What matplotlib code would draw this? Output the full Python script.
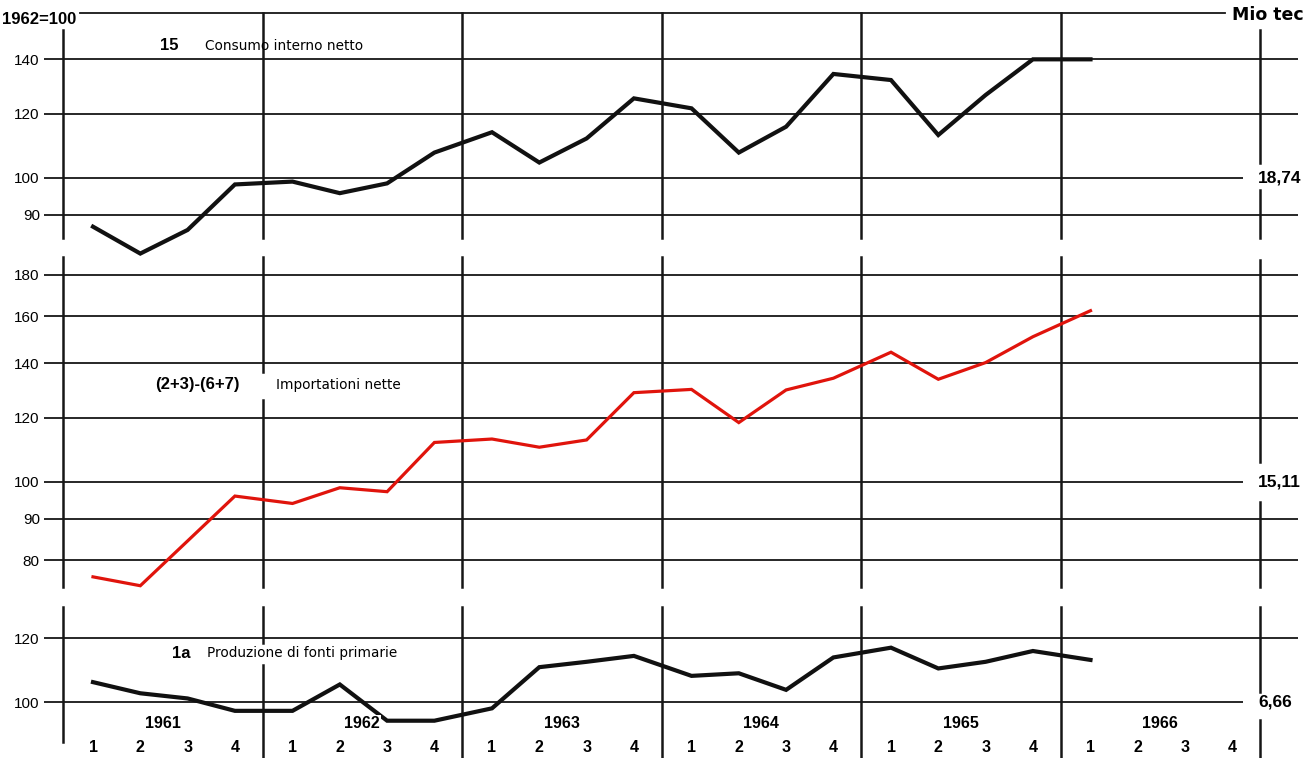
import matplotlib
matplotlib.use("Agg")
from matplotlib import pyplot as plt
from matplotlib.ticker import NullLocator

plt.rcParams['font.family'] = ['Liberation Sans', 'DejaVu Sans']

# quarterly indices, 1962 = 100, from 1961 Q1 to 1966 Q1
years = [1961, 1962, 1963, 1964, 1965, 1966]
quarter_labels = ["1", "2", "3", "4"]

consumo = [87.0, 80.6, 86.2, 98.1, 98.9, 95.7, 98.4, 107.4,
           113.8, 104.4, 111.8, 125.3, 121.8, 107.4, 115.6, 134.3,
           132.0, 112.9, 126.5, 140.0, 140.0]
importazioni = [76.3, 74.4, 84.5, 96.0, 94.0, 98.3, 97.2, 111.8,
                112.9, 110.3, 112.6, 128.8, 130.0, 118.3, 129.8, 134.2,
                144.5, 133.8, 140.3, 151.0, 162.6]
produzione = [105.9, 102.6, 101.1, 97.6, 97.6, 105.2, 94.9, 94.9,
              98.3, 110.5, 112.2, 114.1, 107.8, 108.6, 103.6, 113.6,
              116.8, 110.1, 112.2, 115.7, 112.8]

base_mio_tec = ["18,74", "15,11", "6,66"]
ticks_consumo = [90, 100, 120, 140]
ticks_import = [80, 90, 100, 120, 140, 160, 180]
ticks_prod = [100, 120]

W, H = 1313, 758
K = 810.0          # pixels per decade on the log axes
YEAR_PX = 199.5
LINE = "#161616"


def xd(px):
    return years[0] + (px - 63) / YEAR_PX


def xq(i):
    return years[0] + i // 4 + (30 + 47.3 * (i % 4)) / YEAR_PX


fig = plt.figure(figsize=(W / 100, H / 100), dpi=100)
fig.patch.set_facecolor("white")


def make_panel(top, bot, p100, values, color, lw, ticks, vspans, rgap, ygap=None):
    ax = fig.add_axes([44 / W, 1 - bot / H, (W - 44) / W, (bot - top) / H])
    ax.set_yscale("log")
    ax.set_xlim(xd(44), xd(W))
    ax.set_ylim(10 ** (2 + (p100 - bot) / K), 10 ** (2 + (p100 - top) / K))
    ax.patch.set_visible(False)
    for s in ax.spines.values():
        s.set_visible(False)
    ax.set_xticks([])
    ax.yaxis.set_minor_locator(NullLocator())
    ax.set_yticks(ticks, labels=[str(t) for t in ticks])
    ax.tick_params(axis="y", length=0, pad=3, labelsize=11)

    def fr(p):
        return (bot - p) / (bot - top)

    def vline(x, p0, p1):
        ax.plot([x] * 2, [fr(p1), fr(p0)], transform=ax.get_xaxis_transform(),
                color=LINE, lw=1.8, clip_on=False, zorder=1)

    # horizontal rules
    for t in ticks:
        x1 = 1243 if t == 100 else 1298
        ax.hlines(t, xd(44), xd(x1), color=LINE, lw=1.3, zorder=1)

    # vertical rules: left edge, year boundaries, right edge
    vline(years[0], *vspans["left"])
    y0, y1 = vspans["year"]
    for y in years[1:]:
        if ygap is not None and y == ygap[0]:
            vline(y, y0, ygap[1])
            vline(y, ygap[2], y1)
        else:
            vline(y, y0, y1)
    r0, r1 = vspans["right"]
    right = years[-1] + 1
    vline(right, r0, rgap[0])
    vline(right, rgap[1], r1)

    xs = [xq(i) for i in range(len(values))]
    ax.plot(xs, values, color=color, lw=lw, solid_joinstyle="miter", zorder=3)
    return ax


ax1 = make_panel(5, 258, 177.7, consumo, "#111111", 3.0, ticks_consumo,
                 {"left": (30, 238), "year": (13, 238), "right": (30, 238)}, (163, 190))
ax2 = make_panel(250, 600, 481.7, importazioni, "#e0140c", 2.3, ticks_import,
                 {"left": (257, 587), "year": (257, 587), "right": (260, 587)}, (462, 502),
                 ygap=(1962, 372, 400))
ax3 = make_panel(600, 758, 702.3, produzione, "#111111", 3.0, ticks_prod,
                 {"left": (607, 742), "year": (607, 758), "right": (607, 758)}, (692, 720),
                 ygap=(1962, 643, 665))

# top frame rule
ax1.plot([xd(80), xd(1225)], [(258 - 13) / 253] * 2, transform=ax1.get_xaxis_transform(),
         color=LINE, lw=1.3, clip_on=False)

# year and quarter labels
for k, y in enumerate(years):
    ax3.text(y + 0.5, (758 - 723) / 158, str(y), transform=ax3.get_xaxis_transform(),
             ha="center", va="center", fontsize=11.5, fontweight="bold", zorder=5,
             bbox=dict(facecolor="white", edgecolor="none", pad=0.5))
    for q, lab in enumerate(quarter_labels):
        ax3.text(xq(4 * k + q), (758 - 747) / 158, lab, transform=ax3.get_xaxis_transform(),
                 ha="center", va="center", fontsize=11.5, fontweight="bold")


def ftext(px, py, s, **kw):
    fig.text(px / W, 1 - py / H, s, va="center", **kw)


ftext(2, 20, "1962=100", fontsize=12, fontweight="bold")
ftext(1232, 15, "Mio tec", fontsize=12.5, fontweight="bold", family="DejaVu Sans")
for py, s in zip([177.7, 481.7, 702.3], base_mio_tec):
    ftext(1258, py, s, fontsize=12.5, fontweight="bold")

ftext(160, 46, "15", fontsize=12, fontweight="bold")
ftext(205, 46, "Consumo interno netto", fontsize=9.8, family="DejaVu Sans")

ftext(155, 384, "(2+3)-(6+7)", fontsize=12, fontweight="bold")
ftext(276, 385, "Importationi nette", fontsize=9.8, family="DejaVu Sans")

ftext(172, 653, "1a", fontsize=12, fontweight="bold")
ftext(207, 653, "Produzione di fonti primarie", fontsize=9.8, family="DejaVu Sans",
      bbox=dict(facecolor="white", edgecolor="none", pad=1))

fig.savefig("out.png", dpi=100, facecolor="white")
